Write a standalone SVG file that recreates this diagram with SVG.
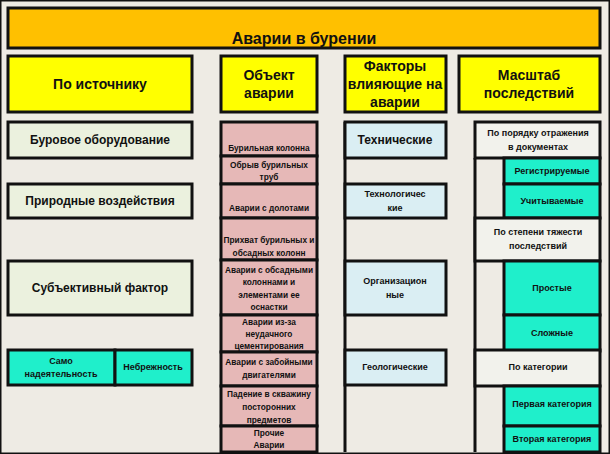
<svg xmlns="http://www.w3.org/2000/svg" width="610" height="454" viewBox="0 0 610 454">
<style>
text{font-family:"Liberation Sans",Arial,sans-serif;font-weight:bold;fill:#111;text-anchor:middle;dominant-baseline:central}
rect{stroke:#111;stroke-width:3}
.t{fill:#FFC000}.h{fill:#FFFF00}.g{fill:#EBF1DE}.p{fill:#E6B8B7}.b{fill:#DAEEF3}.w{fill:#F2F2EC}.c{fill:#1FEFCB}
.s{font-size:9px}.q{font-size:8.3px}.m{font-size:12px}.l{font-size:14px}
</style>
<rect x="0" y="0" width="610" height="454" fill="#EEEBE4" stroke="none"/>
<g id="connectors" stroke="#111" stroke-width="3">
<line x1="345" y1="122" x2="345" y2="452"/>
<line x1="475" y1="158" x2="475" y2="452"/>
</g>
<g id="title"><rect class="t" x="8" y="8" width="592" height="40"/><text x="304" y="38" style="font-size:16px">Аварии в бурении</text></g>
<g id="h1"><rect class="h" x="8" y="56" width="184" height="56"/><text x="100" y="84" class="l">По источнику</text></g>
<g id="h2"><rect class="h" x="221" y="56" width="96" height="56"/><text x="269" y="75" class="l">Объект</text><text x="269" y="93" class="l">аварии</text></g>
<g id="h3"><rect class="h" x="345" y="56" width="101" height="56"/><text x="395" y="66" class="l">Факторы</text><text x="395" y="84" class="l">влияющие на</text><text x="395" y="102" class="l">аварии</text></g>
<g id="h4"><rect class="h" x="459" y="56" width="141" height="56"/><text x="529" y="75" class="l">Масштаб</text><text x="529" y="93" class="l">последствий</text></g>
<g id="s1"><rect class="g" x="8" y="122" width="184" height="36"/><text x="100" y="140" class="m">Буровое оборудование</text></g>
<g id="s2"><rect class="g" x="8" y="184" width="184" height="34"/><text x="100" y="201" class="m">Природные воздействия</text></g>
<g id="s3"><rect class="g" x="8" y="261" width="184" height="54"/><text x="100" y="288" class="m">Субъективный фактор</text></g>
<g id="s4"><rect class="c" x="8" y="350" width="107" height="35"/><text x="61" y="361" class="s">Само</text><text x="61" y="374" class="s">надеятельность</text></g>
<g id="s5"><rect class="c" x="115" y="350" width="77" height="35"/><text x="153" y="367" class="s">Небрежность</text></g>
<g id="o1"><rect class="p" x="221" y="122" width="96" height="34"/><text x="269" y="148" class="q">Бурильная колонна</text></g>
<g id="o2"><rect class="p" x="221" y="156" width="96" height="28"/><text x="269" y="165" class="q">Обрыв бурильных</text><text x="269" y="177" class="q">труб</text></g>
<g id="o3"><rect class="p" x="221" y="184" width="96" height="34"/><text x="269" y="208" class="q">Аварии с долотами</text></g>
<g id="o4"><rect class="p" x="221" y="218" width="96" height="42"/><text x="269" y="240" class="q">Прихват бурильных и</text><text x="269" y="253" class="q">обсадных колонн</text></g>
<g id="o5"><rect class="p" x="221" y="260" width="96" height="55"/><text x="269" y="270" class="q">Аварии с обсадными</text><text x="269" y="282" class="q">колоннами и</text><text x="269" y="295" class="q">элементами ее</text><text x="269" y="307" class="q">оснастки</text></g>
<g id="o6"><rect class="p" x="221" y="315" width="96" height="37"/><text x="269" y="322" class="q">Аварии из-за</text><text x="269" y="334" class="q">неудачного</text><text x="269" y="346" class="q">цементирования</text></g>
<g id="o7"><rect class="p" x="221" y="352" width="96" height="34"/><text x="269" y="362" class="q">Аварии с забойными</text><text x="269" y="375" class="q">двигателями</text></g>
<g id="o8"><rect class="p" x="221" y="386" width="96" height="40"/><text x="269" y="394" class="q">Падение в скважину</text><text x="269" y="407" class="q">посторонних</text><text x="269" y="420" class="q">предметов</text></g>
<g id="o9"><rect class="p" x="221" y="426" width="96" height="26"/><text x="269" y="433" class="q">Прочие</text><text x="269" y="445" class="q">Аварии</text></g>
<g id="f1"><rect class="b" x="345" y="122" width="101" height="36"/><text x="395" y="140" class="m">Технические</text></g>
<g id="f2"><rect class="b" x="345" y="184" width="101" height="34"/><text x="395" y="194" class="s">Технологичес</text><text x="395" y="208" class="s">кие</text></g>
<g id="f3"><rect class="b" x="345" y="261" width="101" height="54"/><text x="395" y="281" class="s">Организацион</text><text x="395" y="295" class="s">ные</text></g>
<g id="f4"><rect class="b" x="345" y="350" width="101" height="35"/><text x="395" y="367" class="s">Геологические</text></g>
<g id="m1"><rect class="w" x="475" y="122" width="125" height="36"/><text x="538" y="133" class="s">По порядку отражения</text><text x="538" y="147" class="s">в документах</text></g>
<g id="m2"><rect class="c" x="504" y="158" width="96" height="26"/><text x="552" y="171" class="s">Регистрируемые</text></g>
<g id="m3"><rect class="c" x="504" y="184" width="96" height="34"/><text x="552" y="201" class="s">Учитываемые</text></g>
<g id="m4"><rect class="w" x="475" y="218" width="125" height="43"/><text x="538" y="232" class="s">По степени  тяжести</text><text x="538" y="246" class="s">последствий</text></g>
<g id="m5"><rect class="c" x="504" y="261" width="96" height="54"/><text x="552" y="288" class="s">Простые</text></g>
<g id="m6"><rect class="c" x="504" y="315" width="96" height="36"/><text x="552" y="333" class="s">Сложные</text></g>
<g id="m7"><rect class="w" x="475" y="350" width="125" height="36"/><text x="538" y="367" class="s">По категории</text></g>
<g id="m8"><rect class="c" x="504" y="386" width="96" height="40"/><text x="552" y="404" class="s">Первая категория</text></g>
<g id="m9"><rect class="c" x="504" y="426" width="96" height="26"/><text x="552" y="439" class="s">Вторая категория</text></g>
</svg>
